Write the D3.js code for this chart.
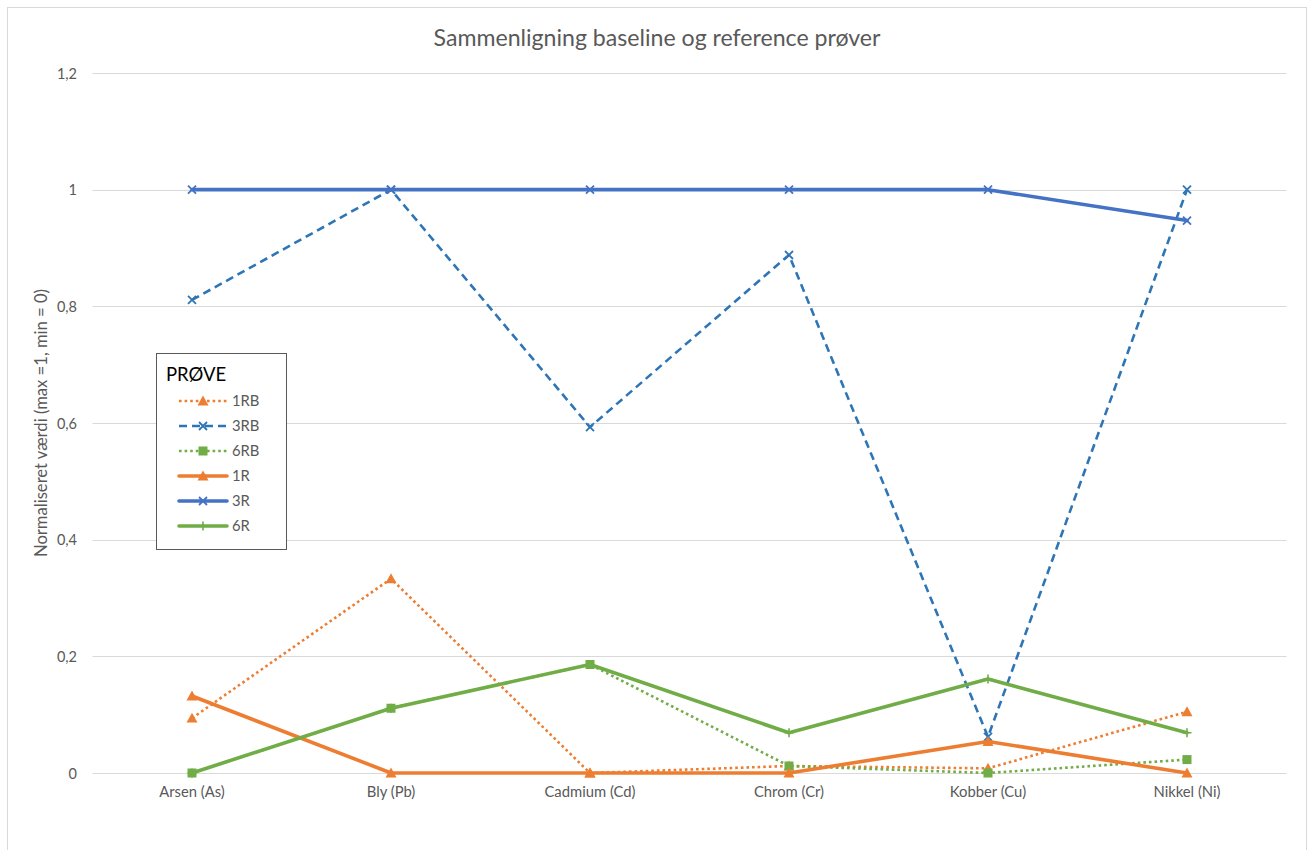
<!DOCTYPE html>
<html>
<head>
<meta charset="utf-8">
<script src="https://cdn.jsdelivr.net/npm/d3@7"></script>
<style>
  html, body { margin: 0; padding: 0; background: #fff; }
  svg { display: block; font-family: Lato, "Liberation Sans", sans-serif; }
</style>
</head>
<body>
<svg id="chart" width="1309" height="850"></svg>
<script>
// Metals on the x axis
const categories = ["Arsen (As)", "Bly (Pb)", "Cadmium (Cd)", "Chrom (Cr)", "Kobber (Cu)", "Nikkel (Ni)"];

// Normalised values per sample (max = 1, min = 0)
const s1RB = [0.094, 0.333, 0.0, 0.012, 0.008, 0.105];
const s3RB = [0.811, 1.0, 0.593, 0.888, 0.062, 1.0];
const s6RB = [0.0, 0.111, 0.186, 0.012, 0.0, 0.023];
const s1R  = [0.132, 0.0, 0.0, 0.0, 0.054, 0.0];
const s3R  = [1.0, 1.0, 1.0, 1.0, 1.0, 0.947];
const s6R  = [0.0, 0.111, 0.186, 0.069, 0.161, 0.069];

const seriesNames = ["1RB", "3RB", "6RB", "1R", "3R", "6R"];
const yTicks = [0, 0.2, 0.4, 0.6, 0.8, 1.0, 1.2];

const titleText = "Sammenligning baseline og reference prøver";
const yTitleText = "Normaliseret værdi (max =1, min = 0)";
const legendTitle = "PRØVE";

// Series styling
const styles = {
  "1RB": { values: s1RB, color: "#ED7D31", width: 2.6, dash: "2.6,3", cap: "butt", marker: "triangle" },
  "3RB": { values: s3RB, color: "#2E75B6", width: 2.6, dash: "8,5", cap: "butt", marker: "x" },
  "6RB": { values: s6RB, color: "#70AD47", width: 2.6, dash: "2.6,3", cap: "butt", marker: "square" },
  "1R":  { values: s1R,  color: "#ED7D31", width: 3.6, dash: null, cap: "round", marker: "triangle" },
  "3R":  { values: s3R,  color: "#4472C4", width: 3.6, dash: null, cap: "round", marker: "x" },
  "6R":  { values: s6R,  color: "#70AD47", width: 3.6, dash: null, cap: "round", marker: "plus" }
};

const svg = d3.select("#chart");

// Shrink or grow a text element's font so it spans the wanted width
function fitWidth(sel, target) {
  const node = sel.node();
  const fs = parseFloat(sel.attr("font-size"));
  const w = node.getComputedTextLength();
  if (w > 0) sel.attr("font-size", (fs * target / w).toFixed(2));
  return sel;
}

// Outer chart frame
svg.append("rect")
  .attr("x", 7.5).attr("y", 7.5)
  .attr("width", 1299).attr("height", 860)
  .attr("fill", "#fff").attr("stroke", "#D9D9D9").attr("stroke-width", 1);

const plot = { left: 92.5, right: 1286.5, top: 73, bottom: 773 };

const x = d3.scaleBand().domain(categories).range([plot.left, plot.right]);
const xc = c => x(c) + x.bandwidth() / 2;
const y = d3.scaleLinear().domain([0, 1.2]).range([plot.bottom, plot.top]);

const fmt = v => d3.format("~g")(+v.toFixed(1)).replace(".", ",");

// Gridlines
svg.append("g").selectAll("line").data(yTicks).join("line")
  .attr("x1", plot.left).attr("x2", plot.right)
  .attr("y1", d => Math.round(y(d)) + 0.5).attr("y2", d => Math.round(y(d)) + 0.5)
  .attr("stroke", "#D9D9D9").attr("stroke-width", 1);

// Y axis labels
const yAxis = d3.axisLeft(y).tickValues(yTicks).tickFormat(fmt).tickSize(0).tickPadding(0);
const yg = svg.append("g").attr("transform", `translate(${77},0)`).call(yAxis);
yg.select(".domain").remove();
yg.selectAll("text").attr("fill", "#595959").attr("font-size", 14.5).attr("dy", "0.35em")
  .attr("font-family", "Lato, 'Liberation Sans', sans-serif");

// X axis labels
const xAxis = d3.axisBottom(x).tickSize(0).tickPadding(0);
const xg = svg.append("g").attr("transform", `translate(0,${786})`).call(xAxis);
xg.select(".domain").remove();
xg.selectAll("text").attr("fill", "#595959").attr("font-size", 14.8).attr("dy", "0.71em")
  .attr("font-family", "Lato, 'Liberation Sans', sans-serif");

// Titles
const title = svg.append("text")
  .attr("x", 657).attr("y", 46)
  .attr("text-anchor", "middle")
  .attr("font-size", 20).attr("fill", "#595959")
  .text(titleText);
fitWidth(title, 447);

const yTitle = svg.append("text")
  .attr("transform", `translate(47,${(plot.top + plot.bottom) / 2}) rotate(-90)`)
  .attr("text-anchor", "middle")
  .attr("font-size", 14).attr("fill", "#595959")
  .text(yTitleText);
fitWidth(yTitle, 268);

// Marker drawing
function drawMarker(g, type, color, cx, cy) {
  if (type === "triangle") {
    const s = 5.5;
    g.append("path")
      .attr("d", `M${cx},${cy - s} L${cx + s},${cy + s * 0.8} L${cx - s},${cy + s * 0.8} Z`)
      .attr("fill", color);
  } else if (type === "square") {
    g.append("rect")
      .attr("x", cx - 4.5).attr("y", cy - 4.5).attr("width", 9).attr("height", 9)
      .attr("fill", color);
  } else if (type === "x") {
    const s = 4;
    g.append("path")
      .attr("d", `M${cx - s},${cy - s} L${cx + s},${cy + s} M${cx - s},${cy + s} L${cx + s},${cy - s}`)
      .attr("stroke", color).attr("stroke-width", 1.8).attr("fill", "none");
  } else if (type === "plus") {
    const s = 4.5;
    g.append("path")
      .attr("d", `M${cx - s},${cy} L${cx + s},${cy} M${cx},${cy - s} L${cx},${cy + s}`)
      .attr("stroke", color).attr("stroke-width", 1.6).attr("fill", "none");
  }
}

// Series lines and markers
const line = d3.line().x((d, i) => xc(categories[i])).y(d => y(d));
const seriesG = svg.append("g");
seriesNames.forEach(name => {
  const st = styles[name];
  const g = seriesG.append("g");
  g.append("path")
    .datum(st.values)
    .attr("d", line)
    .attr("fill", "none")
    .attr("stroke", st.color)
    .attr("stroke-width", st.width)
    .attr("stroke-linejoin", "round")
    .attr("stroke-linecap", st.cap)
    .attr("stroke-dasharray", st.dash);
  st.values.forEach((v, i) => drawMarker(g, st.marker, st.color, xc(categories[i]), y(v)));
});

// Legend
const lg = svg.append("g");
lg.append("rect")
  .attr("x", 156.5).attr("y", 353.5).attr("width", 130).attr("height", 196)
  .attr("fill", "#fff").attr("stroke", "#595959").attr("stroke-width", 1);
lg.append("text")
  .attr("x", 166).attr("y", 381)
  .attr("font-size", 18.5).attr("fill", "#000")
  .text(legendTitle);

const legendY = d3.scalePoint().domain(seriesNames).range([401, 526]);
seriesNames.forEach(name => {
  const st = styles[name];
  const ly = legendY(name);
  lg.append("line")
    .attr("x1", 179).attr("x2", 227).attr("y1", ly).attr("y2", ly)
    .attr("stroke", st.color).attr("stroke-width", st.width)
    .attr("stroke-linecap", st.cap)
    .attr("stroke-dasharray", st.dash);
  drawMarker(lg, st.marker, st.color, 203, ly);
  lg.append("text")
    .attr("x", 232).attr("y", ly).attr("dy", "0.35em")
    .attr("font-size", 14.8).attr("fill", "#595959")
    .text(name);
});
</script>
</body>
</html>
